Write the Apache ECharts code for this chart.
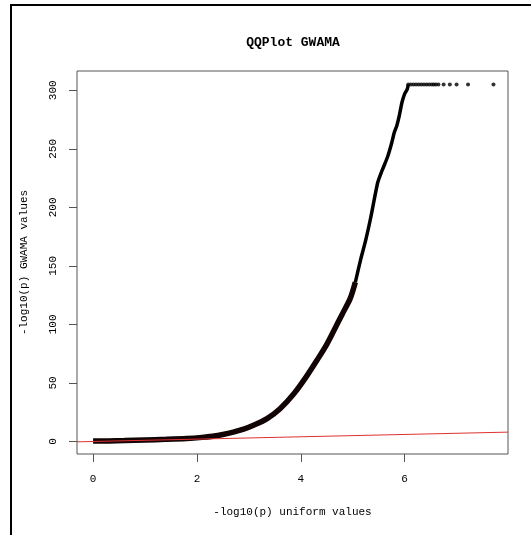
<!DOCTYPE html>
<html>
<head>
<meta charset="utf-8">
<script src="https://cdn.jsdelivr.net/npm/echarts@6/dist/echarts.min.js"></script>
<style>html,body{margin:0;padding:0;background:#fff;}#c{width:531px;height:535px;}</style>
</head>
<body>
<div id="c"></div>
<script>
// Lower dense part of the QQ curve (expected, observed)
const lowX = [0.00, 0.30, 0.60, 1.00, 1.40, 1.80, 2.10, 2.30, 2.50, 2.70, 2.90, 3.10, 3.35, 3.60, 3.87, 4.10, 4.32, 4.50, 4.64, 4.80, 4.95, 5.05];
const lowY = [0.3, 0.5, 0.8, 1.3, 1.8, 2.5, 3.5, 4.5, 6.0, 8.0, 10.5, 14.0, 19.5, 28.0, 41.0, 55.0, 70.0, 83.0, 95.0, 109.0, 122.0, 136.0];
// Upper, thinner part of the curve
const upX = [5.05, 5.15, 5.25, 5.35, 5.48, 5.57, 5.67, 5.75, 5.80, 5.85, 5.89, 5.95, 6.00, 6.05, 6.07];
const upY = [136, 155, 172, 192, 221, 232, 243, 255, 264, 270, 277, 290, 297, 301, 305];
// Plateau of capped values
const topX = [6.07, 6.12, 6.17, 6.22, 6.27, 6.32, 6.37, 6.42, 6.47, 6.52, 6.56, 6.60, 6.65, 6.75, 6.87, 7.00, 7.22, 7.71];
const topY = [305, 305, 305, 305, 305, 305, 305, 305, 305, 305, 305, 305, 305, 305, 305, 305, 305, 305];
// Reference line y = x across the plot
const refX = [-0.31, 7.99];
const refY = [-0.31, 7.99];
const xTicks = [0, 2, 4, 6];
const yTicks = [0, 50, 100, 150, 200, 250, 300];

const zip = (a, b) => a.map((v, i) => [v, b[i]]);
const FONT = '"Liberation Mono", "DejaVu Sans Mono", monospace';

const chart = echarts.init(document.getElementById('c'), null, {renderer: 'canvas'});
chart.setOption({
  backgroundColor: '#fff',
  animation: false,
  title: {
    text: 'QQPlot GWAMA',
    left: 288, top: 31, textAlign: 'center',
    textStyle: {fontFamily: FONT, fontSize: 13, fontWeight: 'bold', color: '#000'}
  },
  graphic: [{
    type: 'rect', shape: {x: 11, y: 5, width: 1000, height: 1000},
    style: {fill: 'none', stroke: '#000', lineWidth: 2}, silent: true
  }],
  grid: {left: 77, top: 71, width: 431, height: 383, show: true, borderColor: '#555', borderWidth: 1, backgroundColor: 'transparent'},
  xAxis: {
    type: 'value', min: -0.31, max: 7.99,
    name: '-log10(p) uniform values', nameLocation: 'middle', nameGap: 53,
    nameTextStyle: {fontFamily: FONT, fontSize: 11, color: '#000'},
    axisLine: {show: false, onZero: false},
    splitLine: {show: false},
    axisTick: {show: true, customValues: xTicks, length: 8, inside: false, lineStyle: {color: '#555'}},
    axisLabel: {customValues: xTicks, fontFamily: FONT, fontSize: 11, color: '#000', margin: 20}
  },
  yAxis: {
    type: 'value', min: -10.7, max: 316.5,
    name: '-log10(p) GWAMA values', nameLocation: 'middle', nameGap: 47,
    nameTextStyle: {fontFamily: FONT, fontSize: 11, color: '#000'},
    axisLine: {show: false, onZero: false},
    splitLine: {show: false},
    axisTick: {show: true, customValues: yTicks, length: 8, lineStyle: {color: '#555'}},
    axisLabel: {customValues: yTicks, fontFamily: FONT, fontSize: 11, color: '#000', rotate: 90, margin: 18}
  },
  series: [
    {type: 'line', data: zip(lowX, lowY), showSymbol: false, smooth: 0.3,
     lineStyle: {color: '#120404', width: 5.5}, z: 2},
    {type: 'line', data: zip(upX, upY), showSymbol: false, smooth: 0.2,
     lineStyle: {color: '#000', width: 3.5}, z: 2},
    {type: 'scatter', data: zip(topX, topY), symbolSize: 4,
     itemStyle: {color: '#000'}, z: 2},
    {type: 'line', data: zip(refX, refY), showSymbol: false,
     lineStyle: {color: '#e03030', width: 1}, z: 3}
  ]
});
</script>
</body>
</html>
